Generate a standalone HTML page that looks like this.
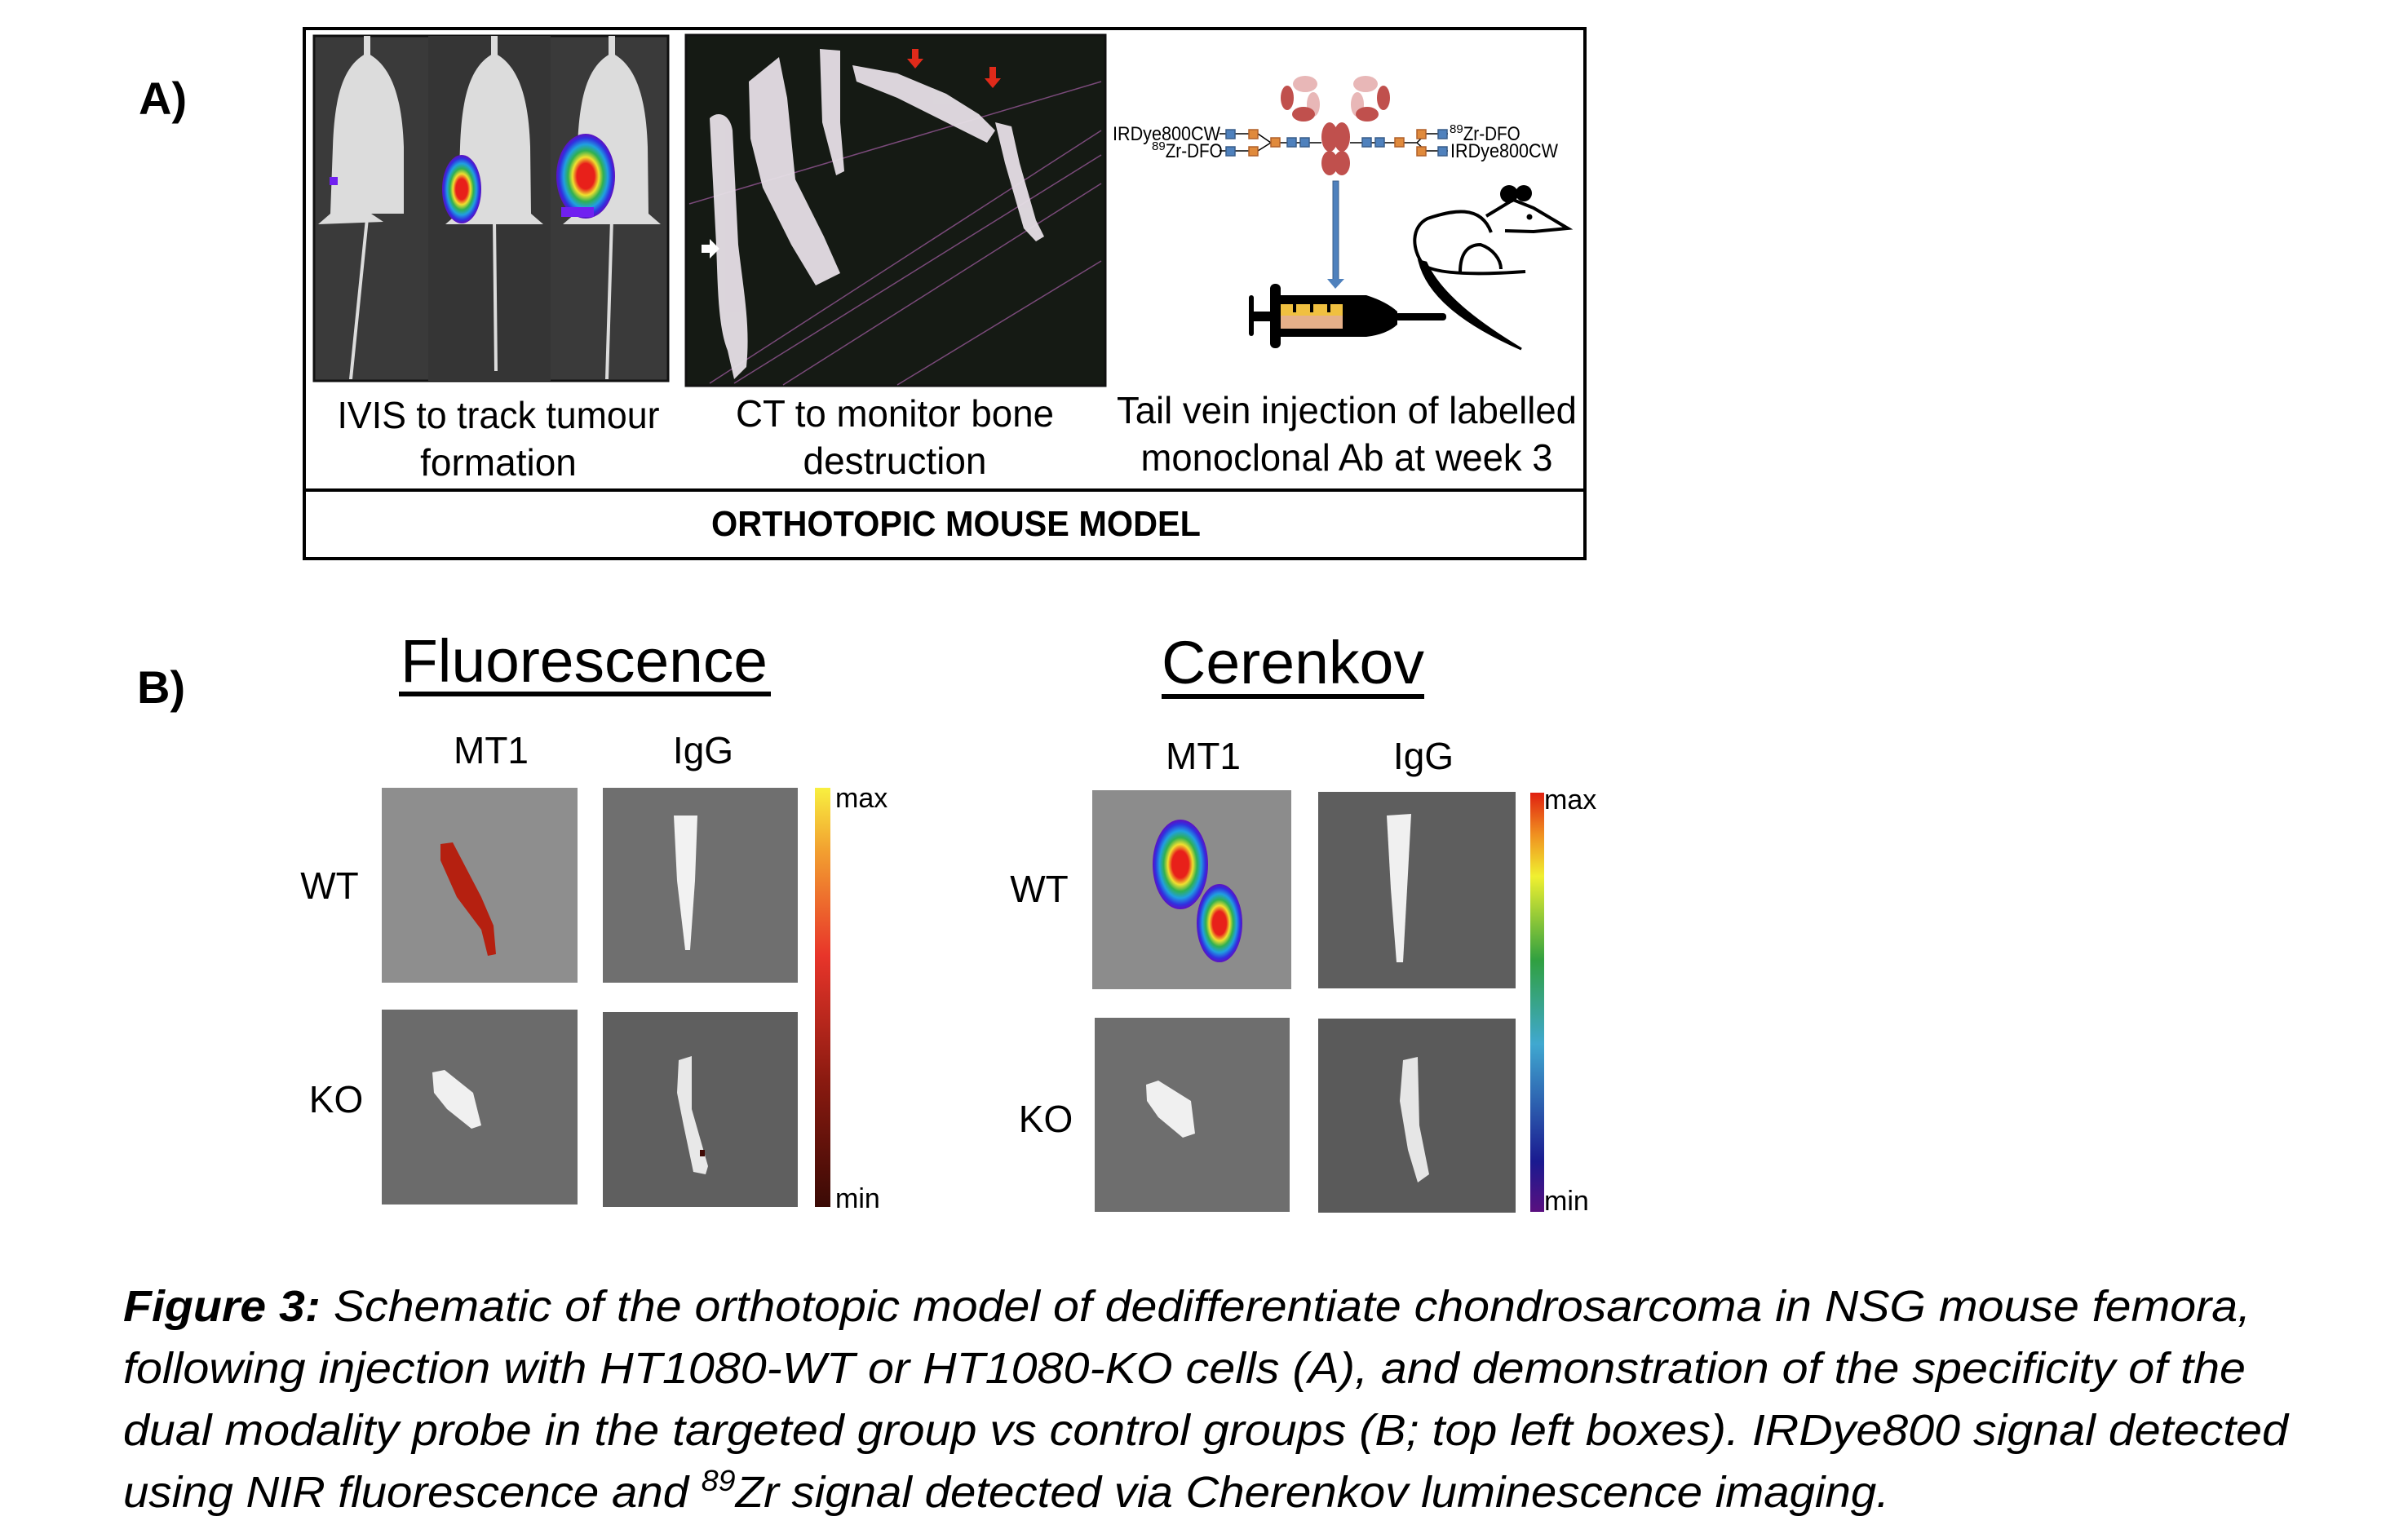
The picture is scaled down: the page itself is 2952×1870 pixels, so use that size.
<!DOCTYPE html>
<html><head><meta charset="utf-8"><style>
html,body{margin:0;padding:0;background:#fff}
svg{display:block}
text{font-family:"Liberation Sans",sans-serif}
</style></head><body>
<svg width="2952" height="1870" viewBox="0 0 2952 1870" xmlns="http://www.w3.org/2000/svg">
<defs>
<linearGradient id="hot" x1="0" y1="1" x2="0" y2="0">
<stop offset="0" stop-color="#3a0a05"/><stop offset="0.3" stop-color="#8a1a10"/><stop offset="0.6" stop-color="#e8352a"/><stop offset="0.85" stop-color="#f2a030"/><stop offset="1" stop-color="#f8f040"/></linearGradient>
<linearGradient id="rain" x1="0" y1="1" x2="0" y2="0">
<stop offset="0" stop-color="#5a1080"/><stop offset="0.12" stop-color="#1a1a90"/><stop offset="0.4" stop-color="#40a8d0"/><stop offset="0.6" stop-color="#30a040"/><stop offset="0.8" stop-color="#f0f030"/><stop offset="0.9" stop-color="#f09020"/><stop offset="1" stop-color="#e02010"/></linearGradient>
<radialGradient id="blob" cx="0.5" cy="0.5" r="0.5">
<stop offset="0" stop-color="#e8201a"/><stop offset="0.3" stop-color="#e8201a"/><stop offset="0.45" stop-color="#f0e030"/><stop offset="0.6" stop-color="#30b050"/><stop offset="0.75" stop-color="#20a0e0"/><stop offset="0.9" stop-color="#3030e0"/><stop offset="1" stop-color="#6010c0"/></radialGradient>
</defs>

<!-- A -->
<text x="170" y="140" font-size="56" font-weight="bold">A)</text>
<rect x="373" y="35" width="1570" height="650" fill="none" stroke="#000" stroke-width="4"/>
<line x1="373" y1="601" x2="1943" y2="601" stroke="#000" stroke-width="4"/>

<!-- IVIS -->
<rect x="385" y="44" width="434" height="423" fill="#3a3a3a" stroke="#111" stroke-width="3"/>
<rect x="525" y="44" width="150" height="423" fill="#353535"/>
<g fill="#dcdcdc">
<path d="M450 65 C420 80 410 120 408 180 L405 262 L390 275 L470 272 L455 262 L495 262 L495 180 C493 120 480 80 450 65Z"/>
<path d="M606 65 C576 80 566 120 564 180 L561 262 L546 275 L666 275 L651 262 L650 180 C648 120 636 80 606 65Z"/>
<path d="M750 65 C720 80 710 120 708 180 L705 262 L690 275 L810 275 L795 262 L794 180 C792 120 780 80 750 65Z"/>
<rect x="446" y="44" width="8" height="25"/><rect x="602" y="44" width="8" height="25"/><rect x="746" y="44" width="8" height="25"/>
<path d="M452 268 L448 268 L428 465 L432 465Z M608 268 L604 268 L606 455 L610 455Z M752 268 L748 268 L742 465 L746 465Z"/>
</g>
<rect x="404" y="217" width="10" height="10" fill="#7020f0"/>
<ellipse cx="566" cy="232" rx="24" ry="42" fill="url(#blob)"/>
<ellipse cx="718" cy="216" rx="36" ry="52" fill="url(#blob)"/>
<rect x="688" y="254" width="40" height="12" fill="#7020f0"/>

<!-- CT -->
<rect x="841" y="43" width="514" height="430" fill="#151a14" stroke="#111" stroke-width="3"/>
<g stroke="#7a4a7a" stroke-width="1.5" fill="none">
<line x1="870" y1="470" x2="1350" y2="160"/><line x1="900" y1="470" x2="1350" y2="190"/><line x1="960" y1="472" x2="1350" y2="225"/><line x1="1100" y1="472" x2="1350" y2="320"/><line x1="845" y1="250" x2="1350" y2="100"/>
</g>
<g fill="#e6dfe6" opacity="0.95">
<path d="M870 145 C880 135 895 140 898 160 L905 300 C912 360 920 400 915 450 L900 465 L892 430 C880 400 880 350 878 300 Z"/>
<path d="M918 100 L955 70 L965 120 L975 220 L1010 290 L1030 335 L1000 350 L970 300 L935 230 L920 170Z"/>
<path d="M1005 60 L1030 62 L1030 150 L1035 210 L1025 215 L1008 150 Z"/>
<path d="M1045 80 L1100 90 L1160 115 L1200 140 L1220 160 L1210 175 L1170 155 L1100 120 L1050 100Z"/>
<path d="M1220 150 L1240 155 L1250 200 L1270 270 L1280 290 L1270 296 L1255 280 L1232 200Z"/>
</g>
<path d="M1118 60 h8 v12 h6 l-10 12 l-10 -12 h6z" fill="#e02a1a"/>
<path d="M1213 82 h8 v14 h6 l-10 12 l-10 -12 h6z" fill="#e02a1a"/>
<path d="M860 300 h10 v-7 l12 12 l-12 12 v-7 h-10z" fill="#fff"/>

<!-- antibody -->
<g>
<ellipse cx="1600" cy="103" rx="15" ry="10" fill="#e8b7b7"/>
<ellipse cx="1674" cy="103" rx="15" ry="10" fill="#e8b7b7"/>
<ellipse cx="1578" cy="120" rx="8" ry="15" fill="#c0504d"/>
<ellipse cx="1696" cy="120" rx="8" ry="15" fill="#c0504d"/>
<ellipse cx="1610" cy="128" rx="8" ry="15" fill="#e8b7b7"/>
<ellipse cx="1664" cy="128" rx="8" ry="15" fill="#e8b7b7"/>
<ellipse cx="1598" cy="140" rx="14" ry="9" fill="#c0504d"/>
<ellipse cx="1676" cy="140" rx="14" ry="9" fill="#c0504d"/>
<ellipse cx="1630" cy="168" rx="10" ry="18" fill="#c0504d"/>
<ellipse cx="1645" cy="168" rx="10" ry="18" fill="#c0504d"/>
<ellipse cx="1630" cy="200" rx="10" ry="15" fill="#c0504d"/>
<ellipse cx="1645" cy="200" rx="10" ry="15" fill="#c0504d"/>
<g stroke="#000" stroke-width="1.5" fill="none">
<path d="M1495 164 H1537 M1495 185 H1537 M1542 164 L1558 175 L1542 185 M1569 175 H1620 M1655 175 H1737 M1742 164 H1775 M1742 185 H1775 M1737 175 L1748 164 M1737 175 L1748 185"/>
</g>
<g fill="#4f81bd" stroke="#385d8a" stroke-width="1.5">
<rect x="1503" y="159" width="11" height="11"/><rect x="1503" y="180" width="11" height="11"/>
<rect x="1578" y="169" width="11" height="11"/><rect x="1594" y="169" width="11" height="11"/>
<rect x="1670" y="169" width="11" height="11"/><rect x="1686" y="169" width="11" height="11"/>
<rect x="1763" y="159" width="11" height="11"/><rect x="1763" y="180" width="11" height="11"/>
</g>
<g fill="#e08a3c" stroke="#b0602a" stroke-width="1.5">
<rect x="1531" y="159" width="11" height="11"/><rect x="1531" y="180" width="11" height="11"/>
<rect x="1558" y="169" width="11" height="11"/><rect x="1710" y="169" width="11" height="11"/>
<rect x="1737" y="159" width="11" height="11"/><rect x="1737" y="180" width="11" height="11"/>
</g>
<text x="1364" y="172" font-size="24" textLength="132" lengthAdjust="spacingAndGlyphs">IRDye800CW</text>
<text x="1412" y="193" font-size="24"><tspan font-size="15" dy="-9">89</tspan><tspan dy="9" textLength="70" lengthAdjust="spacingAndGlyphs">Zr-DFO</tspan></text>
<text x="1777" y="172" font-size="24"><tspan font-size="15" dy="-9">89</tspan><tspan dy="9" textLength="70" lengthAdjust="spacingAndGlyphs">Zr-DFO</tspan></text>
<text x="1778" y="193" font-size="24" textLength="132" lengthAdjust="spacingAndGlyphs">IRDye800CW</text>
</g>
<rect x="1634" y="222" width="7" height="122" fill="#4f81bd" stroke="#385d8a"/>
<path d="M1627 342 L1648 342 L1637 354Z" fill="#4f81bd"/>
<!-- syringe -->
<g fill="#000">
<rect x="1531" y="362" width="6" height="50" rx="3"/>
<rect x="1535" y="382" width="25" height="12"/>
<rect x="1557" y="348" width="13" height="79" rx="6"/>
<path d="M1568 362 L1675 362 Q1700 370 1713 382 L1713 398 Q1700 410 1675 413 L1568 413Z"/>
<rect x="1710" y="384" width="63" height="9" rx="4"/>
</g>
<rect x="1570" y="373" width="76" height="30" fill="#e6b089"/>
<rect x="1570" y="373" width="76" height="14" fill="#f0c040"/>
<rect x="1585" y="373" width="4" height="10" fill="#000"/><rect x="1606" y="373" width="4" height="10" fill="#000"/><rect x="1627" y="373" width="4" height="10" fill="#000"/>
<!-- mouse -->
<g fill="none" stroke="#000" stroke-width="4">
<path d="M1828 285 C1815 250 1780 258 1750 268 C1730 278 1730 305 1745 325 C1760 335 1800 338 1870 333"/>
<path d="M1790 334 C1790 310 1800 300 1815 300 C1830 305 1840 318 1840 330"/>
<path d="M1822 265 L1855 245 L1880 255 L1922 280 L1880 284 L1845 283"/>
</g>
<path d="M1740 320 C1750 360 1790 395 1865 428 C1810 395 1765 360 1748 322Z" fill="#000" stroke="#000" stroke-width="3"/>
<circle cx="1850" cy="238" r="11" fill="#000"/><circle cx="1868" cy="237" r="10" fill="#000"/>
<circle cx="1875" cy="266" r="3.5" fill="#000"/>

<g font-size="46" text-anchor="middle">
<text x="611" y="525" textLength="395" lengthAdjust="spacingAndGlyphs">IVIS to track tumour</text>
<text x="611" y="583">formation</text>
<text x="1097" y="523" textLength="390" lengthAdjust="spacingAndGlyphs">CT to monitor bone</text>
<text x="1097" y="581">destruction</text>
<text x="1651" y="519" textLength="564" lengthAdjust="spacingAndGlyphs">Tail vein injection of labelled</text>
<text x="1651" y="577" textLength="505" lengthAdjust="spacingAndGlyphs">monoclonal Ab at week 3</text>
</g>
<text x="1172" y="657" font-size="44" font-weight="bold" text-anchor="middle" textLength="600" lengthAdjust="spacingAndGlyphs">ORTHOTOPIC MOUSE MODEL</text>

<!-- B -->
<text x="168" y="862" font-size="56" font-weight="bold">B)</text>
<text x="716" y="836" font-size="74" text-anchor="middle" textLength="450" lengthAdjust="spacingAndGlyphs">Fluorescence</text>
<rect x="489" y="848" width="456" height="6" fill="#000"/>
<text x="1585" y="838" font-size="74" text-anchor="middle" textLength="322" lengthAdjust="spacingAndGlyphs">Cerenkov</text>
<rect x="1424" y="851" width="322" height="6" fill="#000"/>

<g font-size="46" text-anchor="middle">
<text x="602" y="936">MT1</text><text x="862" y="936">IgG</text>
<text x="1475" y="943">MT1</text><text x="1745" y="943">IgG</text>
<text x="404" y="1102">WT</text><text x="412" y="1364">KO</text>
<text x="1274" y="1106">WT</text><text x="1282" y="1388">KO</text>
</g>

<!-- fluor panels -->
<rect x="468" y="966" width="240" height="239" fill="#8e8e8e"/>
<rect x="739" y="966" width="239" height="239" fill="#6f6f6f"/>
<rect x="468" y="1238" width="240" height="239" fill="#6b6b6b"/>
<rect x="739" y="1241" width="239" height="239" fill="#5f5f5f"/>
<path d="M540 1035 L555 1033 L590 1100 L605 1135 L608 1170 L598 1172 L590 1140 L560 1100 L540 1055Z" fill="#b52010"/>
<path d="M826 1000 L855 1000 L852 1080 L846 1165 L840 1165 L830 1080Z" fill="#f2f2f2"/>
<path d="M530 1315 L545 1312 L580 1340 L590 1380 L578 1384 L548 1360 L532 1340Z" fill="#f0f0f0"/>
<path d="M832 1300 L848 1295 L848 1360 L868 1430 L865 1440 L850 1437 L838 1380 L830 1340Z" fill="#e8e8e8"/>
<rect x="858" y="1410" width="6" height="8" fill="#400a05"/>
<rect x="999" y="966" width="19" height="514" fill="url(#hot)"/>
<text x="1024" y="990" font-size="34">max</text>
<text x="1024" y="1481" font-size="34">min</text>

<!-- cerenkov panels -->
<rect x="1339" y="969" width="244" height="244" fill="#8c8c8c"/>
<rect x="1616" y="971" width="242" height="241" fill="#5e5e5e"/>
<rect x="1342" y="1248" width="239" height="238" fill="#6e6e6e"/>
<rect x="1616" y="1249" width="242" height="238" fill="#5a5a5a"/>
<ellipse cx="1447" cy="1060" rx="34" ry="55" fill="url(#blob)"/>
<ellipse cx="1495" cy="1132" rx="28" ry="48" fill="url(#blob)"/>
<path d="M1700 1000 L1730 998 L1725 1090 L1720 1180 L1712 1180 L1705 1090Z" fill="#f0f0f0"/>
<path d="M1405 1330 L1420 1325 L1460 1350 L1465 1390 L1450 1395 L1420 1370 L1406 1350Z" fill="#f0f0f0"/>
<path d="M1720 1300 L1738 1296 L1740 1380 L1752 1440 L1738 1450 L1726 1410 L1716 1350Z" fill="#e6e6e6"/>
<rect x="1876" y="972" width="17" height="514" fill="url(#rain)"/>
<text x="1893" y="992" font-size="34">max</text>
<text x="1893" y="1484" font-size="34">min</text>

<!-- caption -->
<g font-size="54" font-style="italic">
<text x="151" y="1620" textLength="2608" lengthAdjust="spacingAndGlyphs"><tspan font-weight="bold">Figure 3:</tspan> Schematic of the orthotopic model of dedifferentiate chondrosarcoma in NSG mouse femora,</text>
<text x="151" y="1696" textLength="2602" lengthAdjust="spacingAndGlyphs">following injection with HT1080-WT or HT1080-KO cells (A), and demonstration of the specificity of the</text>
<text x="151" y="1772" textLength="2654" lengthAdjust="spacingAndGlyphs">dual modality probe in the targeted group vs control groups (B; top left boxes). IRDye800 signal detected</text>
<text x="151" y="1848" textLength="2165" lengthAdjust="spacingAndGlyphs">using NIR fluorescence and <tspan font-size="36" dy="-20">89</tspan><tspan dy="20">Zr signal detected via Cherenkov luminescence imaging.</tspan></text>
</g>
</svg>
</body></html>
